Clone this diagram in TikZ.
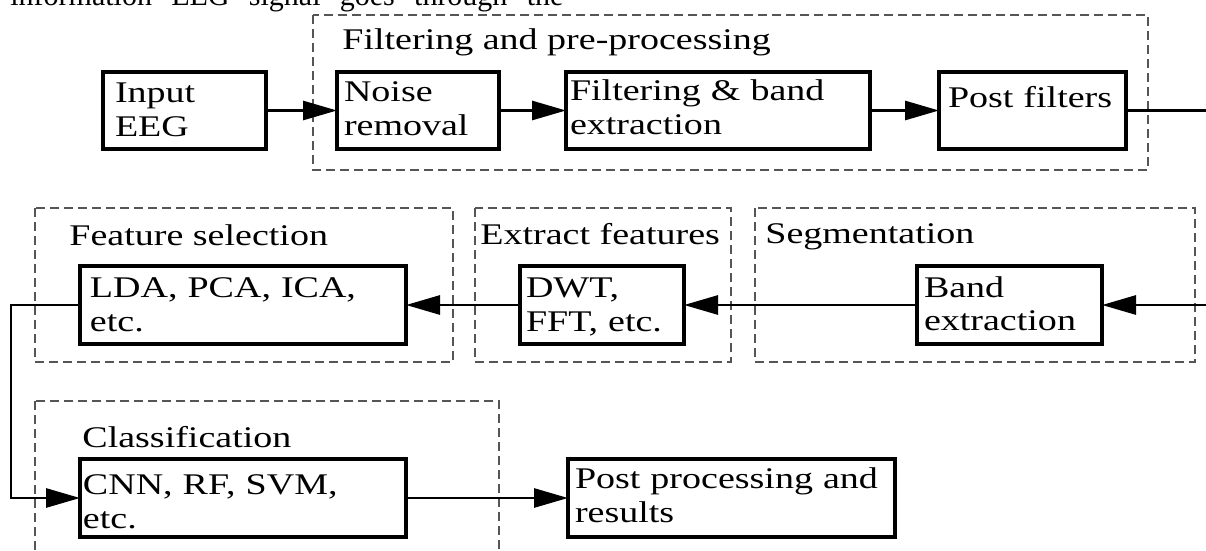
\documentclass[tikz,border=0pt]{standalone}
\usepackage{fontspec}
\setmainfont{Liberation Serif}[FakeStretch=1.267]
\newfontfamily\plainserif{Liberation Serif}
\usetikzlibrary{arrows.meta}
\definecolor{grpgray}{HTML}{555555}
\begin{document}
\begin{tikzpicture}[x=0.5pt,y=-0.5pt,
  every node/.style={font=\fontsize{15pt}{17pt}\selectfont},
  blk/.style={draw, line width=1.6pt, inner ysep=0pt, outer sep=0pt, align=left, anchor=north west},
  grp/.style={draw=grpgray, line width=0.75pt, dash pattern=on 4.5pt off 2.5pt},
  ttl/.style={anchor=base west, inner sep=0pt},
  conn/.style={line width=1.4pt},
  arr/.style={line width=1.4pt, -{Triangle[length=17pt,width=9.5pt]}}]
\useasboundingbox (0,0) rectangle (1206,551);
\clip (0,0) rectangle (1206,551);
% partial text line at the top
\node[anchor=base west, inner sep=0pt, font=\plainserif\fontsize{15pt}{17pt}\selectfont] (toptext) at (10,6)
  {\makebox[276.5pt][s]{information EEG signal goes through the}};
% group frames
\draw[grp] (313,15) rectangle (1148,170);
\draw[grp] (35,208) rectangle (453,362);
\draw[grp] (475,208) rectangle (731,362);
\draw[grp] (755,208) rectangle (1195,362);
\draw[grp] (35,401) rectangle (499,600);
% group titles
\node[ttl] (t1) at (342,50) {Filtering and pre-processing};
\node[ttl] (t2) at (69,245) {Feature selection};
\node[ttl] (t3) at (480,244) {Extract features};
\node[ttl] (t4) at (765,243) {Segmentation};
\node[ttl] (t5) at (82,447) {Classification};
% row 1
\node[blk, text width=69.5pt, inner xsep=6pt, text height=15.5pt, text depth=23pt] (input) at (103,72) {Input\\EEG};
\node[blk, text width=74pt, inner xsep=3.5pt, text height=15pt, text depth=23.5pt] (noise) at (337,72) {Noise\\removal};
\node[blk, text width=148pt, inner xsep=2pt, text height=14.5pt, text depth=24pt] (filt) at (566,72) {Filtering \& band\\extraction};
\node[blk, text width=84.5pt, inner xsep=4.5pt, text height=18pt, text depth=20.5pt] (post) at (939,72) {Post filters};
% row 2
\node[blk, text width=153pt, inner xsep=5pt, text height=16pt, text depth=23pt] (lda) at (80,266) {LDA, PCA, ICA,\\etc.};
\node[blk, text width=76pt, inner xsep=3pt, text height=16pt, text depth=23pt] (dwt) at (520,266) {DWT,\\FFT, etc.};
\node[blk, text width=85.5pt, inner xsep=3.5pt, text height=15.5pt, text depth=23.5pt] (band) at (917,266) {Band\\extraction};
% row 3
\node[blk, text width=160pt, inner xsep=1.5pt, text height=17.5pt, text depth=21.5pt] (cnn) at (80,459) {CNN, RF, SVM,\\etc.};
\node[blk, text width=156.5pt, inner xsep=3.5pt, text height=14.5pt, text depth=24.5pt] (res) at (568,459) {Post processing and\\results};
% connectors
\coordinate (redge) at (1206,0);
\coordinate (ledge) at (11,0);
\coordinate (outR) at (post.east -| redge);
\coordinate (inR) at (band.east -| redge);
\coordinate (turn) at (lda.west -| ledge);
\draw[arr] (input.east) -- (noise.west);
\draw[arr] (noise.east) -- (filt.west);
\draw[arr] (filt.east) -- (post.west);
\draw[conn] (post.east) -- (outR);
\draw[arr] (inR) -- (band.east);
\draw[arr] (band.west) -- (dwt.east);
\draw[arr] (dwt.west) -- (lda.east);
\draw[arr] (lda.west) -- (turn) |- (cnn.west);
\draw[arr] (cnn.east) -- (res.west);
\end{tikzpicture}
\end{document}
